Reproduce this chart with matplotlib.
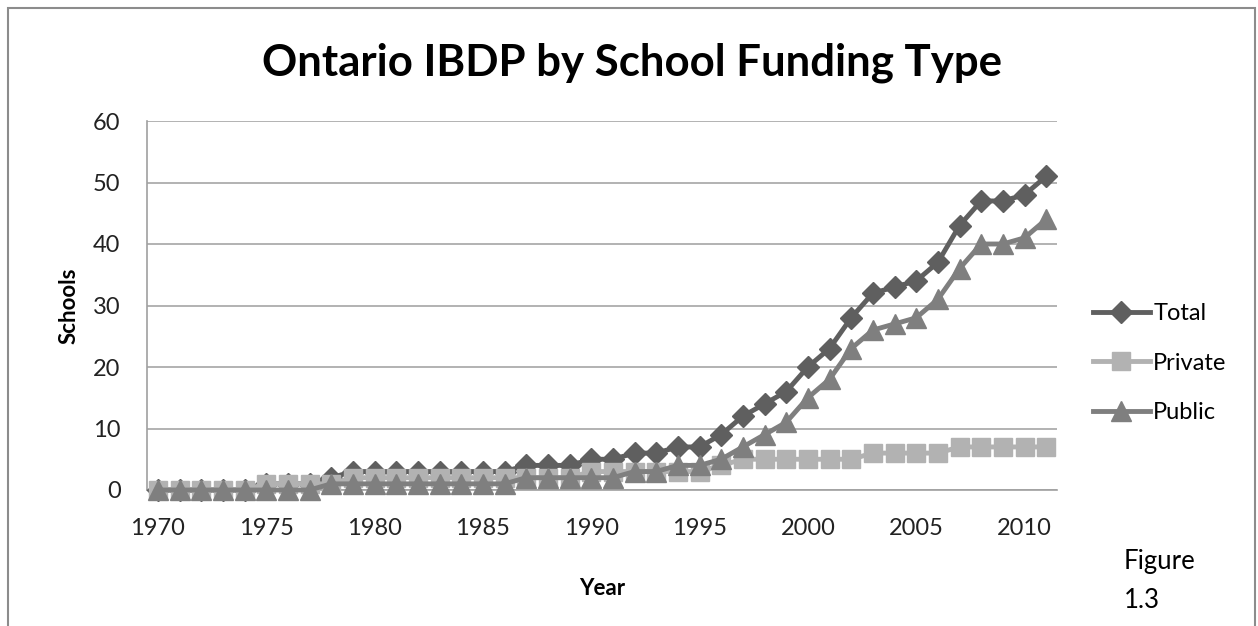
import numpy as np
import matplotlib.pyplot as plt
from matplotlib.patches import Rectangle

# Data
years = list(range(1970, 2012))
total = [0, 0, 0, 0, 0, 1, 1, 1, 2, 3,
         3, 3, 3, 3, 3, 3, 3, 4, 4, 4,
         5, 5, 6, 6, 7, 7, 9, 12, 14, 16,
         20, 23, 28, 32, 33, 34, 37, 43, 47, 47,
         48, 51]
private = [0, 0, 0, 0, 0, 1, 1, 1, 1, 2,
           2, 2, 2, 2, 2, 2, 2, 2, 2, 2,
           3, 3, 3, 3, 3, 3, 4, 5, 5, 5,
           5, 5, 5, 6, 6, 6, 6, 7, 7, 7,
           7, 7]
public = [0, 0, 0, 0, 0, 0, 0, 0, 1, 1,
          1, 1, 1, 1, 1, 1, 1, 2, 2, 2,
          2, 2, 3, 3, 4, 4, 5, 7, 9, 11,
          15, 18, 23, 26, 27, 28, 31, 36, 40, 40,
          41, 44]
xticks = list(range(1970, 2011, 5))
yticks = list(range(0, 61, 10))

plt.rcParams['font.family'] = ['Lato', 'DejaVu Sans']

fig = plt.figure(figsize=(12.58, 6.26), dpi=100)
fig.patches.append(Rectangle((8 / 1258, -0.05), 1247 / 1258, 1.05 - 8 / 626,
                             transform=fig.transFigure, fill=False,
                             edgecolor='#8c8c8c', linewidth=1.5))

ax = fig.add_axes([147 / 1258, 1 - 490 / 626, 910 / 1258, 369 / 626])

ax.plot(years, total, color='#5f5f5f', linewidth=3.5, marker='D', markersize=11,
        label='Total', clip_on=False, zorder=3)
ax.plot(years, private, color='#b2b2b2', linewidth=3.5, marker='s', markersize=13,
        label='Private', clip_on=False, zorder=4)
ax.plot(years, public, color='#7f7f7f', linewidth=3.5, marker='^', markersize=14,
        label='Public', clip_on=False, zorder=5)

ax.set_xlim(1969.5, 2011.5)
ax.set_ylim(0, 60)
ax.set_xticks(xticks)
ax.set_yticks(yticks)
ax.tick_params(length=0, labelsize=17, colors='#222222')
ax.tick_params(axis='x', pad=20)
ax.tick_params(axis='y', pad=19)
ax.grid(axis='y', color='#a6a6a6', linewidth=1.2)
ax.set_axisbelow(True)
for s in ['top', 'right']:
    ax.spines[s].set_visible(False)
ax.spines['left'].set_color('#a0a0a0')
ax.spines['bottom'].set_color('#a0a0a0')
ax.spines['left'].set_linewidth(1.2)
ax.spines['bottom'].set_linewidth(1.2)

ax.set_xlabel('Year', fontsize=16, fontweight='bold', labelpad=28)
ax.set_ylabel('Schools', fontsize=16, fontweight='bold', labelpad=10)

fig.text(632 / 1258, 1 - 63 / 626, 'Ontario IBDP by School Funding Type',
         fontsize=31.5, fontweight='bold', ha='center', va='center')

ax.legend(loc='center left', bbox_to_anchor=(1093 / 1258, 1 - 363 / 626),
          bbox_transform=fig.transFigure, frameon=False, fontsize=17,
          handlelength=2.4, handletextpad=0.15, labelspacing=1.2,
          borderaxespad=0, borderpad=0)

fig.text(1124 / 1258, 1 - 562 / 626, 'Figure', fontsize=18.5, va='center', ha='left')
fig.text(1124 / 1258, 1 - 600 / 626, '1.3', fontsize=18.5, va='center', ha='left')

fig.savefig('out.png', dpi=100)
